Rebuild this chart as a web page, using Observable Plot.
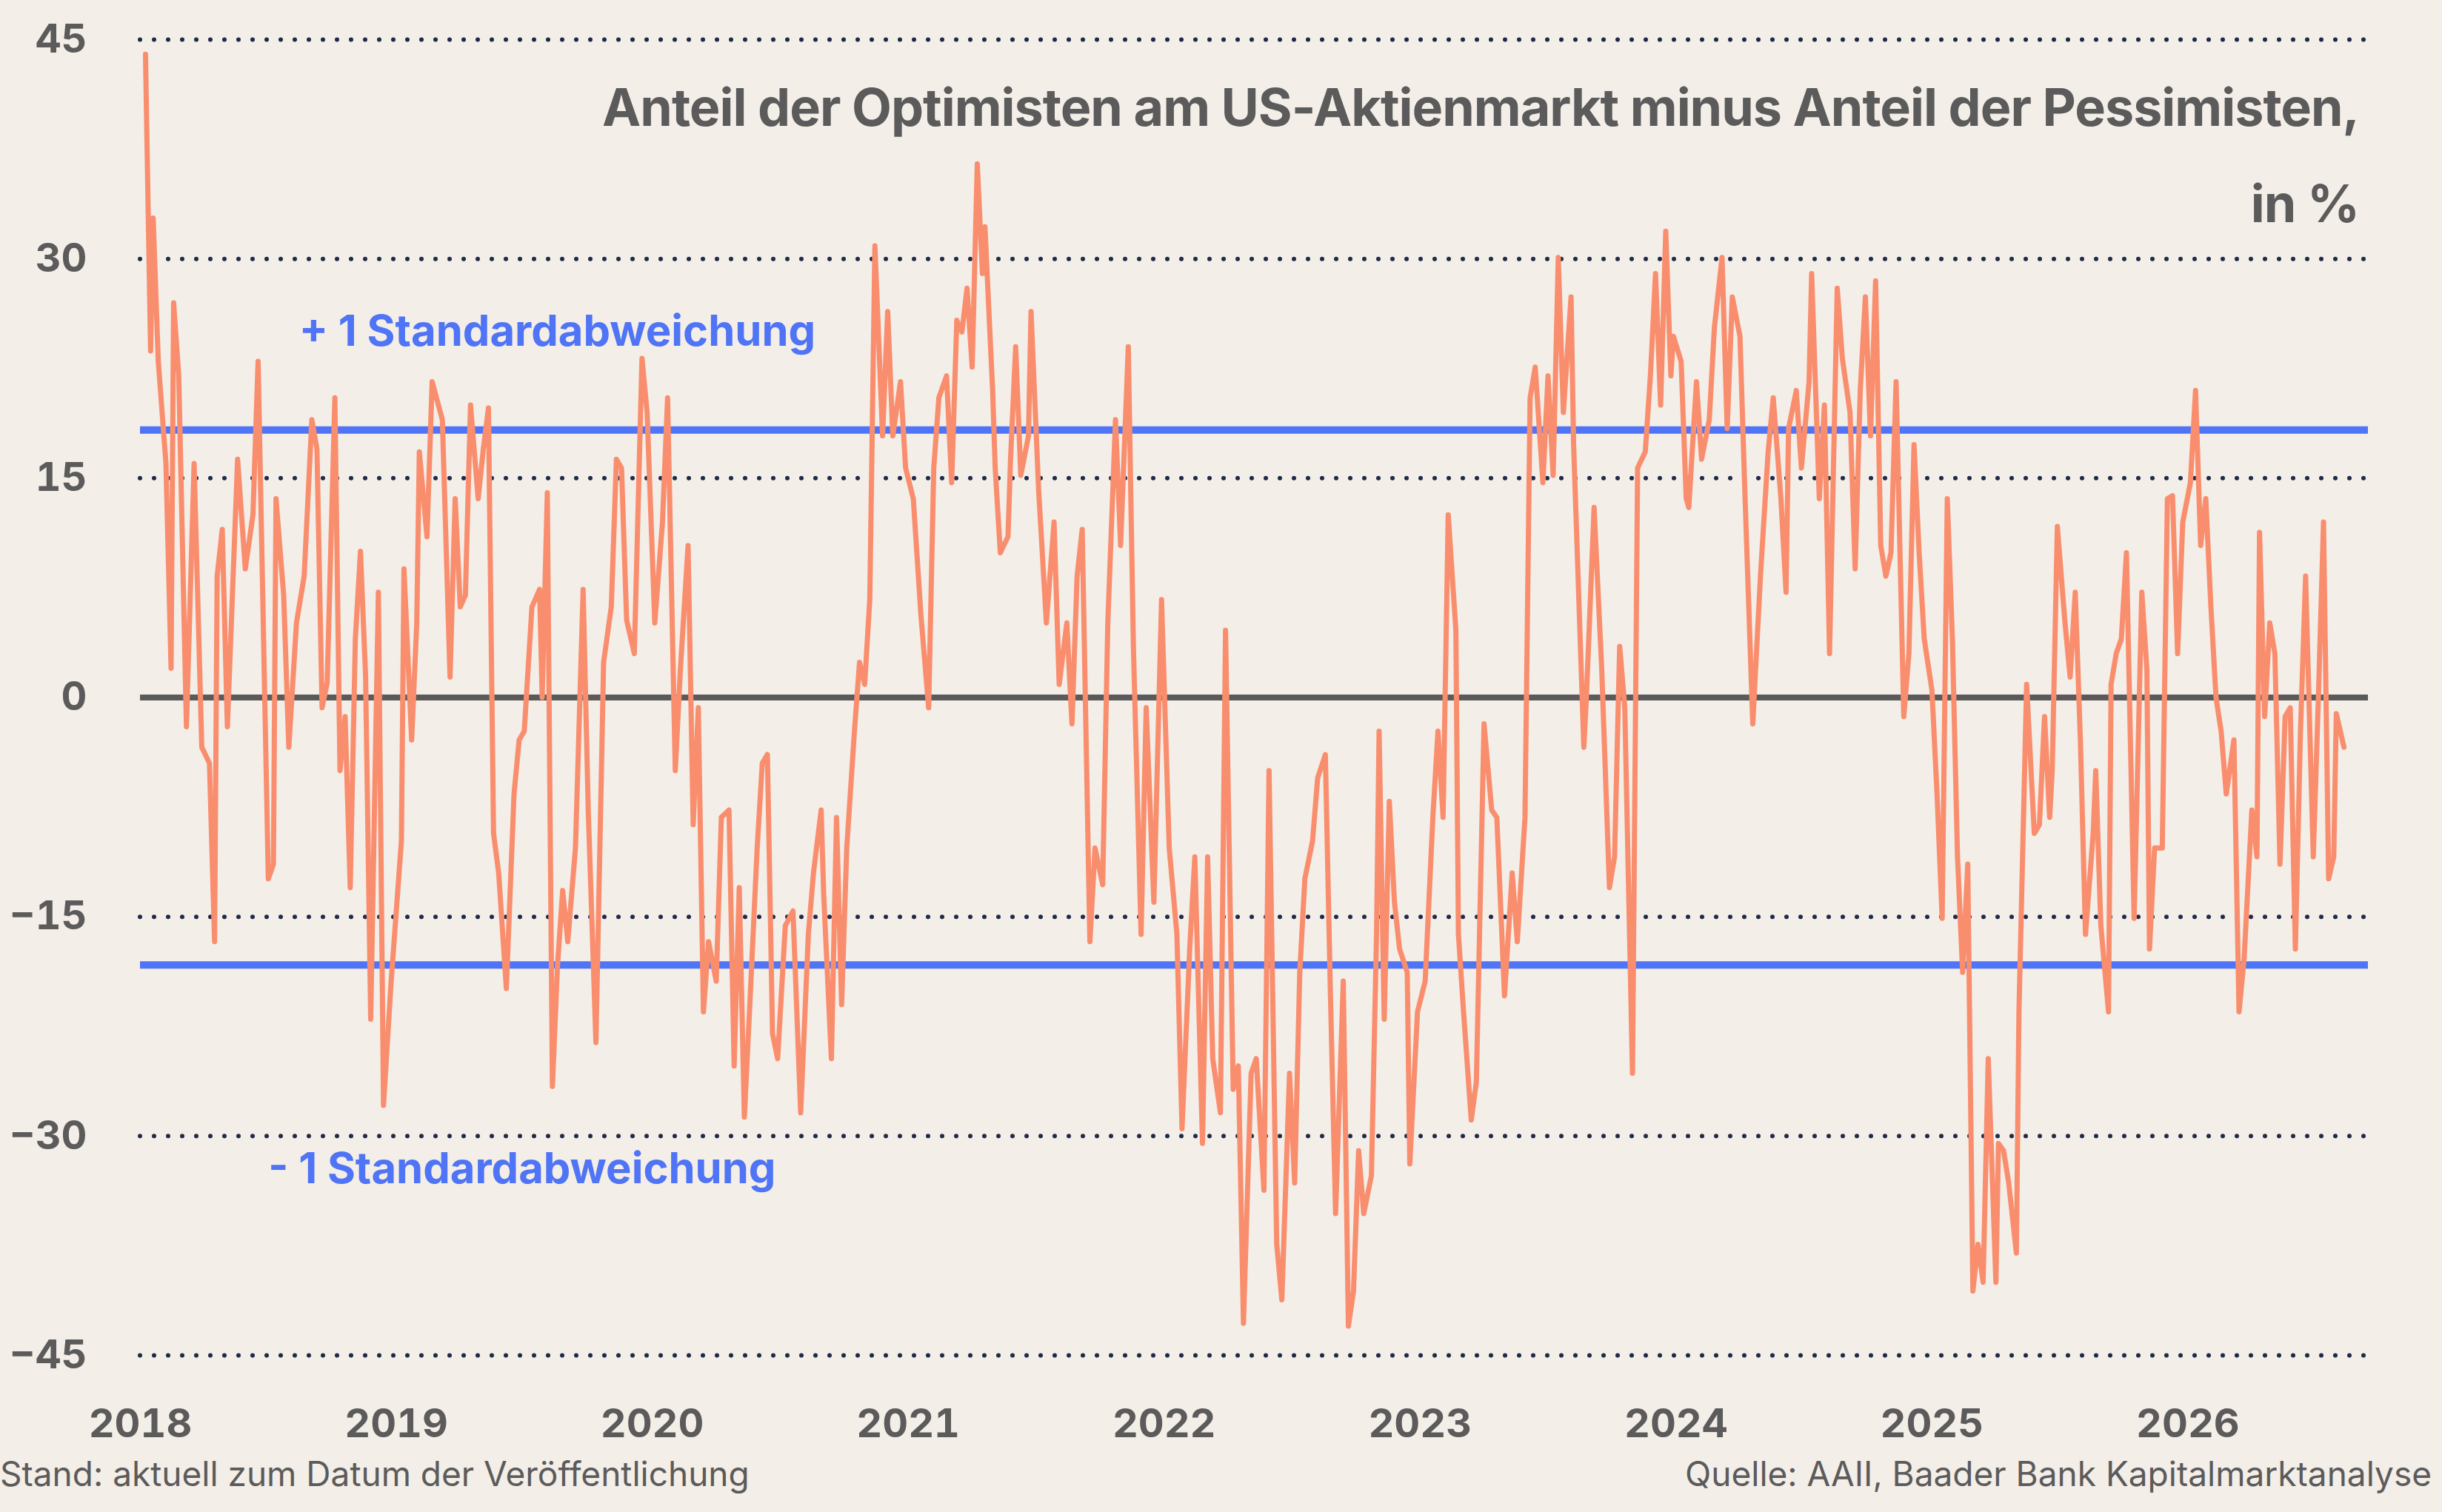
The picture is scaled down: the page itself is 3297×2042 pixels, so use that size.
<!DOCTYPE html>
<html><head><meta charset="utf-8">
<script src="https://cdn.jsdelivr.net/npm/d3@7"></script>
<script src="https://cdn.jsdelivr.net/npm/@observablehq/plot@0.6"></script>
<style>
body{margin:0;background:#f4eee8;font-family:Inter,"Noto Sans",sans-serif;overflow:hidden}
#wrap{position:relative;width:3297px;height:2042px}
#title{position:absolute;right:112px;top:80px;text-align:right;font-weight:700;font-size:70px;line-height:130px;color:#5b5b5b;letter-spacing:-1px}
#foot{position:absolute;left:0;right:0;top:1962px;font-size:46px;color:#5b5b5b}
#foot .l{position:absolute;left:0}
#foot .r{position:absolute;right:14px}
</style></head>
<body><div id="wrap"><div id="chart"></div>
<div id="title">Anteil der Optimisten am US-Aktienmarkt minus Anteil der Pessimisten,<br>in %</div>
<div id="foot"><span class="l">Stand: aktuell zum Datum der Veröffentlichung</span><span class="r">Quelle: AAII, Baader Bank Kapitalmarktanalyse</span></div>
</div>
<script>
const times = [
2018.02,2018.04,2018.05,2018.07,2018.10,2018.12,2018.13,2018.15,2018.18,2018.21,2018.24,2018.27,2018.29,2018.30,2018.32,2018.34,2018.38,2018.41,2018.44,2018.46,2018.50,2018.52,2018.53,2018.56,2018.58,2018.61,2018.64,2018.67,2018.69,2018.71,2018.73,2018.76,2018.78,2018.80,2018.82,2018.84,2018.86,2018.88,2018.90,2018.93,2018.95,2018.98,
2019.02,2019.03,2019.06,2019.08,2019.09,2019.12,2019.14,2019.18,2019.21,2019.23,2019.25,2019.27,2019.29,2019.32,2019.34,2019.36,2019.38,2019.40,2019.43,2019.46,2019.48,2019.50,2019.53,2019.56,2019.57,2019.59,2019.61,2019.63,2019.65,2019.67,2019.70,2019.73,2019.75,2019.78,2019.81,2019.84,2019.86,2019.88,2019.90,2019.93,2019.96,2019.98,
2020.01,2020.04,2020.06,2020.09,2020.11,2020.14,2020.16,2020.18,2020.20,2020.22,2020.25,2020.27,2020.30,2020.32,2020.34,2020.36,2020.38,2020.41,2020.43,2020.45,2020.47,2020.49,2020.52,2020.55,2020.58,2020.61,2020.63,2020.66,2020.67,2020.70,2020.72,2020.74,2020.76,2020.79,2020.81,2020.83,2020.85,2020.87,2020.90,2020.92,2020.94,2020.97,2020.99,
2021.02,2021.05,2021.08,2021.10,2021.12,2021.15,2021.17,2021.19,2021.21,2021.23,2021.25,2021.27,2021.29,2021.30,2021.33,2021.34,2021.36,2021.39,2021.40,2021.42,2021.44,2021.47,2021.48,2021.51,2021.54,2021.57,2021.59,2021.62,2021.64,2021.66,2021.68,2021.71,2021.73,2021.76,2021.78,2021.81,2021.83,2021.86,2021.88,2021.91,2021.93,2021.96,2021.99,
2022.02,2022.05,2022.07,2022.10,2022.12,2022.15,2022.17,2022.19,2022.22,2022.24,2022.27,2022.29,2022.31,2022.34,2022.36,2022.39,2022.41,2022.44,2022.46,2022.49,2022.51,2022.53,2022.55,2022.58,2022.60,2022.63,2022.65,2022.67,2022.70,2022.72,2022.74,2022.76,2022.78,2022.81,2022.83,2022.84,2022.86,2022.88,2022.90,2022.92,2022.95,2022.96,2022.99,
2023.02,2023.05,2023.07,2023.09,2023.11,2023.14,2023.15,2023.17,2023.20,2023.22,2023.25,2023.28,2023.30,2023.33,2023.36,2023.38,2023.41,2023.43,2023.45,2023.48,2023.50,2023.52,2023.54,2023.56,2023.59,2023.60,2023.64,2023.65,2023.68,2023.71,2023.74,2023.76,2023.78,2023.80,2023.83,2023.85,2023.88,2023.90,2023.92,2023.94,2023.96,2023.98,2023.99,
2024.02,2024.04,2024.05,2024.08,2024.10,2024.13,2024.15,2024.18,2024.20,2024.22,2024.25,2024.27,2024.30,2024.33,2024.36,2024.38,2024.41,2024.43,2024.44,2024.47,2024.49,2024.52,2024.53,2024.56,2024.58,2024.60,2024.63,2024.65,2024.68,2024.70,2024.72,2024.74,2024.76,2024.78,2024.80,2024.82,2024.84,2024.86,2024.89,2024.91,2024.93,2024.95,2024.97,
2025.00,2025.02,2025.04,2025.06,2025.08,2025.10,2025.12,2025.14,2025.16,2025.18,2025.20,2025.22,2025.25,2025.26,2025.28,2025.30,2025.33,2025.34,2025.37,2025.40,2025.42,2025.44,2025.46,2025.47,2025.49,2025.52,2025.54,2025.56,2025.58,2025.60,2025.63,2025.64,2025.66,2025.69,2025.70,2025.72,2025.74,2025.76,2025.79,2025.82,2025.84,2025.85,2025.87,2025.90,2025.92,2025.94,2025.96,2025.98,
2026.01,2026.03,2026.05,2026.07,2026.09,2026.11,2026.13,2026.15,2026.18,2026.20,2026.22,2026.25,2026.27,2026.28,2026.30,2026.32,2026.34,2026.36,2026.38,2026.40,2026.42,2026.44,2026.46,2026.49,2026.51,2026.53,2026.55,2026.57,2026.58,2026.61];
const spread = [
44,23.7,32.8,23,16,2,27,22,-2,16,-3.4,-4.5,-16.7,8.3,11.5,-2,16.3,8.8,12.5,23,-12.4,-11.4,13.6,7,-3.4,5.1,8.3,19,17,-0.7,1,20.5,-5,-1.3,-13,4,10,1.5,-22,7.2,-27.9,-19.4,
-9.8,8.8,-2.9,5.1,16.8,11,21.6,19,1.4,13.6,6.2,7,20,13.6,17,19.8,-9.3,-12,-19.9,-6.6,-2.9,-2.3,6.2,7.4,0,14,-26.6,-18.3,-13.2,-16.7,-10.3,7.4,-7.7,-23.6,2.4,6.2,16.3,15.7,5.3,3,23.2,19.5,
5.1,12,20.5,-5,1.9,10.4,-8.7,-0.7,-21.5,-16.7,-19.4,-8.2,-7.7,-25.2,-13,-28.7,-21.5,-10.3,-4.5,-3.9,-23,-24.7,-15.6,-14.6,-28.4,-16.2,-12,-7.7,-13.5,-24.7,-8.2,-21,-10.3,-2.3,2.4,0.9,6.7,30.9,17.9,26.4,17.9,21.6,15.7,
13.6,5.6,-0.7,15.7,20.5,22,14.7,25.8,25,28,22.6,36.5,29,32.2,21,15.7,9.9,11,16.3,24,15.2,17.9,26.4,14.1,5.1,12,0.9,5.1,-1.8,8.3,11.5,-16.7,-10.3,-12.8,5.1,19,10.4,24,3.5,-16.2,-0.7,-14,6.7,
-10.3,-16.2,-29.5,-17.2,-10.9,-30.5,-10.9,-24.7,-28.4,4.6,-26.8,-25.2,-42.8,-25.7,-24.7,-33.7,-5,-37.4,-41.2,-25.7,-33.2,-18.8,-12.4,-9.8,-5.5,-3.9,-20.4,-35.3,-19.4,-43,-40.6,-31,-35.3,-32.7,-16.2,-2.3,-22,-7.1,-14,-17.2,-18.8,-31.9,-21.5,
-19.4,-8.2,-2.3,-8.2,12.5,4.6,-16.2,-21.5,-28.9,-26.3,-1.8,-7.7,-8.2,-20.4,-12,-16.7,-8.2,20.5,22.6,14.7,22,15.2,30.1,19.5,27.4,17.3,-3.4,0,13,1.9,-13,-10.9,3.5,-0.7,-25.7,15.7,16.8,22,29,20,31.9,22,24.7,
23,13.6,13,21.6,16.3,19,25.3,30.1,18.4,27.4,24.7,13.6,-1.8,8.3,16.8,20.5,13.6,7.2,18.4,21,15.7,21.6,29,13.6,20,3,28,23.2,19.5,8.8,21,27.4,17.9,28.5,10.4,8.3,9.9,21.6,-1.3,3,17.3,9.9,4,
0.5,-6.6,-15.1,13.6,4,-10.9,-18.8,-11.4,-40.6,-37.4,-40,-24.7,-40,-30.5,-31,-33.2,-38,-21.5,0.9,-9.3,-8.7,-1.3,-8.2,-5,11.7,5.1,1.4,7.2,-2.9,-16.2,-9.3,-5,-15.6,-21.5,0.9,3,4,9.9,-15.1,7.2,1.9,-17.2,-10.3,-10.3,13.6,13.8,3,12,
14.7,21,10.4,13.6,6.2,0,-2.3,-6.6,-2.9,-21.5,-17.8,-7.7,-10.9,11.3,-1.3,5.1,3,-11.4,-1.3,-0.7,-17.2,-2.3,8.3,-10.9,0,12,-12.4,-10.9,-1.1,-3.4];
const gridTicks = [45,30,15,-15,-30,-45];
const yTicks = [45,30,15,0,-15,-30,-45];
const yearTicks = [2018,2019,2020,2021,2022,2023,2024,2025,2026];
const sdUpper = 18.3, sdLower = -18.3;
const sdLabels = [{x:2018.62,y:25,t:"+ 1 Standardabweichung"},{x:2018.5,y:-32.3,t:"- 1 Standardabweichung"}];

const data = times.map((t,i)=>({t, v:spread[i]}));
const plot = Plot.plot({
  width:3297, height:1960,
  marginTop:53, marginBottom:130, marginLeft:189, marginRight:100,
  style:{background:"transparent", fontFamily:"Inter, 'Noto Sans', sans-serif"},
  x:{domain:[2018,2026.705], ticks:yearTicks, tickFormat:d=>String(d), tickSize:0, tickPadding:72, label:null},
  y:{domain:[-45,45], ticks:yTicks, tickSize:0, tickPadding:72, label:null},
  marks:[
    Plot.ruleY(gridTicks,{stroke:"#1f2a4a",strokeWidth:6,strokeDasharray:"0 19",strokeLinecap:"round"}),
    Plot.ruleY([0],{stroke:"#5a5a5a",strokeWidth:8}),
    Plot.ruleY([sdUpper,sdLower],{stroke:"#4f74f5",strokeWidth:10}),
    Plot.line(data,{x:"t",y:"v",stroke:"#f98e6e",strokeWidth:7,strokeLinejoin:"round"}),
    Plot.text(sdLabels,{x:"x",y:"y",text:"t",textAnchor:"start",fill:"#4f74f5",fontSize:58,fontWeight:700}),
  ]
});
d3.select(plot).selectAll("[aria-label='x-axis tick label'] text, [aria-label='y-axis tick label'] text")
  .attr("font-size",54).attr("font-weight",700).attr("fill","#5b5b5b");
d3.select(plot).selectAll("[aria-label='x-axis tick label'], [aria-label='y-axis tick label']")
  .attr("font-size",54).attr("font-weight",700).attr("fill","#5b5b5b");
document.getElementById("chart").appendChild(plot);
</script></body></html>
